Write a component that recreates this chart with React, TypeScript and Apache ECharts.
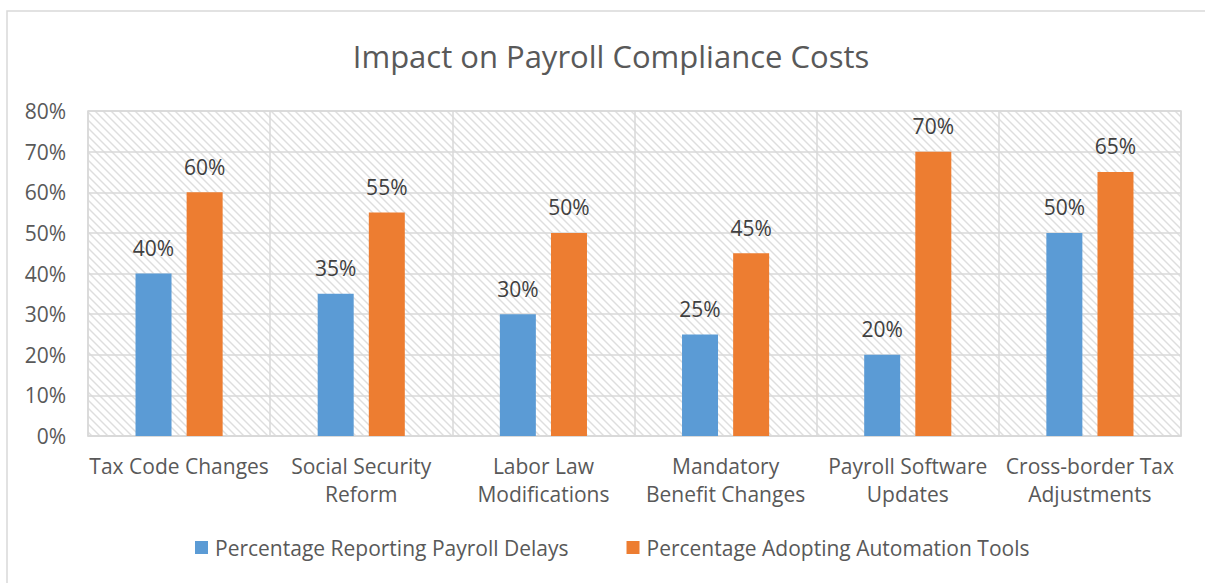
import React, { useEffect, useRef } from "react";
import * as echarts from "echarts";

const categories = [
  "Tax Code Changes",
  "Social Security\nReform",
  "Labor Law\nModifications",
  "Mandatory\nBenefit Changes",
  "Payroll Software\nUpdates",
  "Cross-border Tax\nAdjustments",
];
const delays = [40, 35, 30, 25, 20, 50];
const automation = [60, 55, 50, 45, 70, 65];
const seriesNames = [
  "Percentage Reporting Payroll Delays",
  "Percentage Adopting Automation Tools",
];
const titleText = "Impact on Payroll Compliance Costs";

const FONT = "'Open Sans', 'Noto Sans', sans-serif";
const TEXT = "#595959";
const GRIDC = "#d9d9d9";

function makeHatch(): string {
  const c = document.createElement("canvas");
  const n = 8;
  c.width = n;
  c.height = n;
  const ctx = c.getContext("2d")!;
  const img = ctx.createImageData(n, n);
  for (let y = 0; y < n; y++) {
    for (let x = 0; x < n; x++) {
      const d = (((x - y) % n) + n) % n;
      const i = (y * n + x) * 4;
      let v = 255;
      if (d === 0) v = 222;
      else if (d === 1 || d === 7) v = 238;
      img.data[i] = v;
      img.data[i + 1] = v;
      img.data[i + 2] = v;
      img.data[i + 3] = 255;
    }
  }
  ctx.putImageData(img, 0, 0);
  return c.toDataURL();
}

export default function App() {
  const ref = useRef<HTMLDivElement>(null);
  useEffect(() => {
    if (!ref.current) return;
    const chart = echarts.init(ref.current, null, { renderer: "svg" });
    const hatch = {
      image: makeHatch(),
      repeat: "repeat",
      imageWidth: 8,
      imageHeight: 8,
    } as any;
    const labelCfg = {
      show: true,
      position: "top",
      distance: 15,
      formatter: "{c}%",
      color: "#404040",
      fontSize: 21,
      fontFamily: FONT,
    };
    chart.setOption({
      animation: false,
      backgroundColor: "#ffffff",
      graphic: [
        {
          type: "rect",
          shape: { x: 7, y: 11, width: 1250, height: 620 },
          style: { fill: "none", stroke: GRIDC, lineWidth: 1.5 },
          silent: true,
          z: -10,
        },
      ],
      title: {
        text: titleText,
        left: 606,
        top: 35,
        textAlign: "center",
        textStyle: {
          color: TEXT,
          fontSize: 31,
          fontWeight: "normal",
          fontFamily: FONT,
        },
      },
      legend: {
        data: seriesNames,
        left: 190,
        top: 532,
        itemWidth: 13,
        itemHeight: 13,
        itemGap: 58,
        icon: "rect",
        textStyle: { color: TEXT, fontSize: 21, fontFamily: FONT, padding: [0, 0, 0, 2] },
      },
      grid: {
        left: 88,
        top: 111,
        right: 24,
        bottom: 147,
        show: true,
        backgroundColor: hatch,
        borderColor: GRIDC,
        borderWidth: 1.5,
        containLabel: false,
      },
      xAxis: {
        type: "category",
        data: categories,
        axisLine: { show: true, lineStyle: { color: GRIDC, width: 1.5 } },
        axisTick: { show: false },
        splitLine: { show: true, lineStyle: { color: GRIDC, width: 1.5 } },
        axisLabel: {
          color: TEXT,
          fontSize: 21,
          fontFamily: FONT,
          margin: 16,
          lineHeight: 28,
          interval: 0,
        },
      },
      yAxis: {
        type: "value",
        min: 0,
        max: 80,
        interval: 10,
        axisLine: { show: false },
        axisTick: { show: false },
        splitLine: { show: true, lineStyle: { color: GRIDC, width: 1.5 } },
        axisLabel: {
          formatter: "{value}%",
          color: TEXT,
          fontSize: 21,
          fontFamily: FONT,
          margin: 22,
        },
      },
      series: [
        {
          name: seriesNames[0],
          type: "bar",
          data: delays,
          barWidth: 36,
          barGap: "42%",
          itemStyle: { color: "#5B9BD5" },
          label: labelCfg,
        },
        {
          name: seriesNames[1],
          type: "bar",
          data: automation,
          barWidth: 36,
          itemStyle: { color: "#ED7D31" },
          label: labelCfg,
        },
      ],
    });
    return () => chart.dispose();
  }, []);
  return (
    <div
      ref={ref}
      style={{ position: "fixed", left: 0, top: 0, width: 1205, height: 583 }}
    />
  );
}
